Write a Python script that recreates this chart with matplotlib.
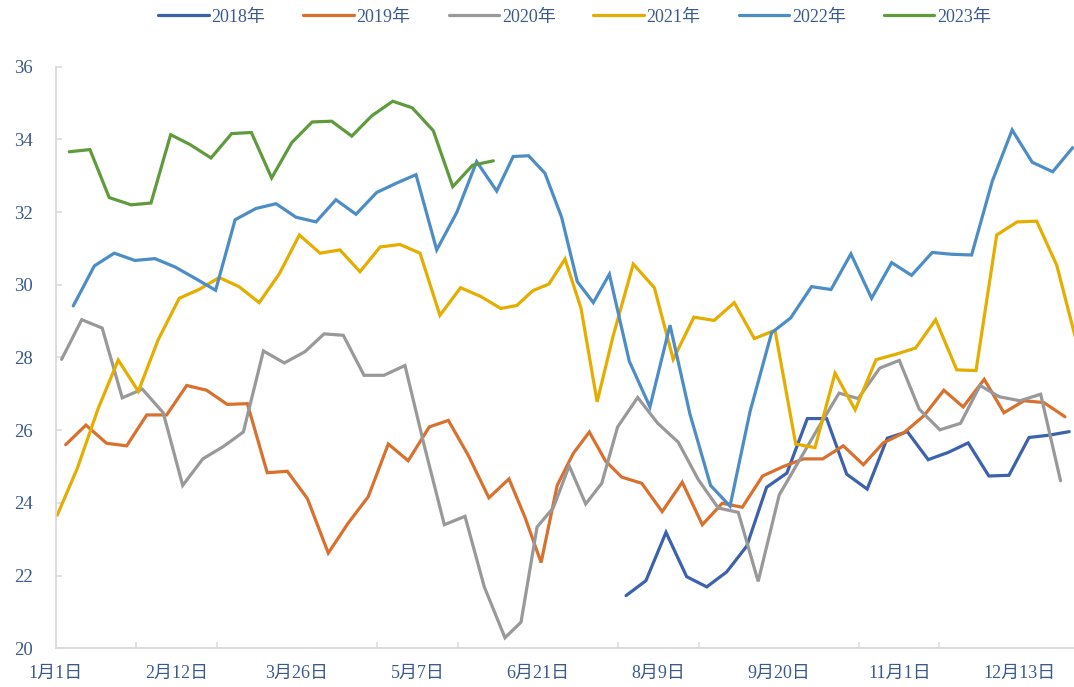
import matplotlib.pyplot as plt

plt.rcParams["font.family"] = ["Liberation Serif", "Noto Sans CJK SC"]

TEXT = "#3A5A8C"
GRID = "#D9D9D9"

# x in weeks from 1月1日, y values per year
x_2018 = [28.39, 29.38, 30.38, 31.41, 32.41, 33.40, 34.40, 35.39, 36.40, 37.42,
          38.38, 39.38, 40.40, 41.40, 42.40, 43.44, 44.44, 45.43, 46.46, 47.46,
          48.46, 49.42, 50.46]
y_2018 = [21.45, 21.86, 23.19, 21.97, 21.69, 22.10, 22.81, 24.43, 24.82, 26.32,
          26.32, 24.79, 24.38, 25.78, 25.96, 25.19, 25.39, 25.65, 24.74, 24.76,
          25.80, 25.86, 25.96]

x_2019 = [0.48, 1.49, 2.52, 3.52, 4.52, 5.51, 6.51, 7.50, 8.53, 9.53,
          10.52, 11.52, 12.52, 13.56, 14.56, 15.55, 16.55, 17.54, 18.59, 19.54,
          20.53, 21.56, 22.56, 23.36, 24.16, 24.96, 25.76, 26.56, 27.36, 28.17,
          29.17, 30.19, 31.19, 32.19, 33.18, 34.18, 35.19, 36.22, 37.22, 38.18,
          39.21, 40.21, 41.20, 42.23, 43.23, 44.22, 45.18, 46.23, 47.21, 48.21,
          49.20, 50.25]
y_2019 = [25.60, 26.14, 25.64, 25.57, 26.42, 26.42, 27.23, 27.10, 26.71, 26.73,
          24.83, 24.87, 24.12, 22.62, 23.45, 24.17, 25.62, 25.16, 26.09, 26.27,
          25.31, 24.14, 24.66, 23.60, 22.36, 24.48, 25.36, 25.95, 25.16, 24.71,
          24.54, 23.76, 24.57, 23.40, 23.99, 23.88, 24.74, 25.00, 25.21, 25.21,
          25.57, 25.05, 25.65, 25.93, 26.40, 27.10, 26.64, 27.40, 26.48, 26.81,
          26.76, 26.37]

x_2020 = [0.28, 1.28, 2.30, 3.30, 4.30, 5.34, 6.31, 7.31, 8.33, 9.33,
          10.33, 11.37, 12.40, 13.35, 14.31, 15.34, 16.33, 17.38, 18.33, 19.34,
          20.37, 21.33, 22.36, 23.16, 23.96, 24.76, 25.56, 26.38, 27.18, 27.97,
          28.97, 29.97, 30.99, 31.99, 32.98, 33.98, 34.97, 36.02, 37.00, 38.00,
          39.00, 39.95, 41.03, 42.00, 42.99, 44.02, 45.05, 46.02, 46.98, 48.01,
          49.04, 50.03]
y_2020 = [27.95, 29.04, 28.81, 26.89, 27.13, 26.48, 24.48, 25.21, 25.55, 25.95,
          28.18, 27.85, 28.16, 28.65, 28.61, 27.51, 27.51, 27.78, 25.60, 23.40,
          23.63, 21.69, 20.29, 20.72, 23.34, 23.86, 25.02, 23.97, 24.54, 26.09,
          26.90, 26.19, 25.67, 24.64, 23.86, 23.74, 21.84, 24.22, 25.15, 26.10,
          27.02, 26.87, 27.71, 27.92, 26.58, 26.01, 26.19, 27.23, 26.92, 26.81,
          26.99, 24.61]

x_2021 = [0.06, 1.06, 2.11, 3.10, 4.10, 5.09, 6.14, 7.12, 8.13, 9.11,
          10.12, 11.12, 12.12, 13.15, 14.14, 15.14, 16.14, 17.13, 18.13, 19.12,
          20.15, 21.15, 22.15, 22.95, 23.75, 24.55, 25.35, 26.15, 26.95, 27.75,
          28.75, 29.80, 30.74, 31.77, 32.78, 33.78, 34.78, 35.81, 36.84, 37.80,
          38.80, 39.80, 40.84, 41.83, 42.81, 43.81, 44.86, 45.82, 46.85, 47.87,
          48.84, 49.84, 50.84]
y_2021 = [23.66, 24.95, 26.61, 27.93, 27.07, 28.49, 29.63, 29.87, 30.20, 29.95,
          29.51, 30.30, 31.37, 30.87, 30.96, 30.36, 31.04, 31.11, 30.87, 29.16,
          29.92, 29.68, 29.35, 29.43, 29.84, 30.02, 30.71, 29.35, 26.78, 28.60,
          30.57, 29.92, 27.95, 29.11, 29.02, 29.51, 28.52, 28.75, 25.62, 25.52,
          27.57, 26.56, 27.94, 28.09, 28.26, 29.04, 27.66, 27.64, 31.37, 31.73,
          31.75, 30.54, 28.40]

x_2022 = [0.86, 1.91, 2.90, 3.93, 4.93, 5.93, 6.92, 7.95, 8.92, 9.96,
          10.96, 11.95, 12.95, 13.94, 14.94, 15.97, 16.97, 17.93, 18.96, 19.96,
          20.95, 21.95, 22.77, 23.54, 24.35, 25.18, 25.96, 26.76, 27.56, 28.55,
          29.58, 30.58, 31.57, 32.60, 33.57, 34.56, 35.64, 36.59, 37.63, 38.60,
          39.59, 40.62, 41.62, 42.61, 43.64, 44.61, 45.60, 46.63, 47.62, 48.62,
          49.64, 50.63]
y_2022 = [29.42, 30.52, 30.87, 30.67, 30.72, 30.49, 30.18, 29.85, 31.79, 32.10,
          32.23, 31.86, 31.73, 32.34, 31.94, 32.54, 32.80, 33.03, 30.96, 31.99,
          33.39, 32.58, 33.53, 33.55, 33.07, 31.86, 30.09, 29.51, 30.29, 27.90,
          26.64, 28.89, 26.45, 24.48, 23.91, 26.50, 28.68, 29.09, 29.95, 29.87,
          30.85, 29.63, 30.61, 30.26, 30.89, 30.84, 30.82, 32.85, 34.26, 33.37,
          33.11, 33.77]

x_2023 = [0.66, 1.69, 2.65, 3.74, 4.73, 5.71, 6.67, 7.72, 8.75, 9.73,
          10.74, 11.74, 12.76, 13.73, 14.73, 15.73, 16.77, 17.74, 18.79, 19.76,
          20.75, 21.78]
y_2023 = [33.66, 33.72, 32.40, 32.20, 32.25, 34.13, 33.86, 33.49, 34.16, 34.19,
          32.94, 33.91, 34.48, 34.50, 34.09, 34.65, 35.05, 34.87, 34.24, 32.70,
          33.29, 33.41]

series = [
    ("2018年", x_2018, y_2018, "#3C62AC"),
    ("2019年", x_2019, y_2019, "#D8702E"),
    ("2020年", x_2020, y_2020, "#999999"),
    ("2021年", x_2021, y_2021, "#E5AD00"),
    ("2022年", x_2022, y_2022, "#4D8DC6"),
    ("2023年", x_2023, y_2023, "#5F9B3D"),
]

date_labels = ["1月1日", "2月12日", "3月26日", "5月7日", "6月21日",
               "8月9日", "9月20日", "11月1日", "12月13日"]
label_pos = [6 * i for i in range(len(date_labels))]
tick_pos = list(range(0, 49, 4))
y_ticks = list(range(20, 37, 2))

fig = plt.figure(figsize=(10.74, 6.87), dpi=100)
ax = fig.add_axes([56 / 1074, 1 - 648.3 / 687, 1 - 56 / 1074, (648.3 - 66.7) / 687])

for name, xs, ys, color in series:
    ax.plot(xs, ys, color=color, lw=2.3, label=name, solid_joinstyle="miter",
            solid_capstyle="round")

ax.set_xlim(0, 50.7)
ax.set_ylim(20, 36)

ax.set_xticks(label_pos)
ax.set_xticklabels(date_labels)
ax.set_xticks(tick_pos, minor=True)
ax.tick_params(axis="x", which="major", length=0, pad=12, labelsize=13, labelcolor=TEXT)
ax.tick_params(axis="x", which="minor", length=4, width=1.1, direction="in", color=GRID)

ax.set_yticks(y_ticks)
ax.tick_params(axis="y", length=4, width=1.1, direction="in", color=GRID,
               pad=17, labelsize=13.5, labelcolor=TEXT)

for side in ("top", "right"):
    ax.spines[side].set_visible(False)
for side in ("left", "bottom"):
    ax.spines[side].set_color(GRID)
    ax.spines[side].set_linewidth(1.3)

fig.legend(loc="center", bbox_to_anchor=(0.535, 0.975), ncol=6, frameon=False,
           fontsize=13, labelcolor=TEXT, handlelength=2.8, handletextpad=0.15,
           columnspacing=2.1)

fig.savefig("out.png", dpi=100)
plt.close(fig)
